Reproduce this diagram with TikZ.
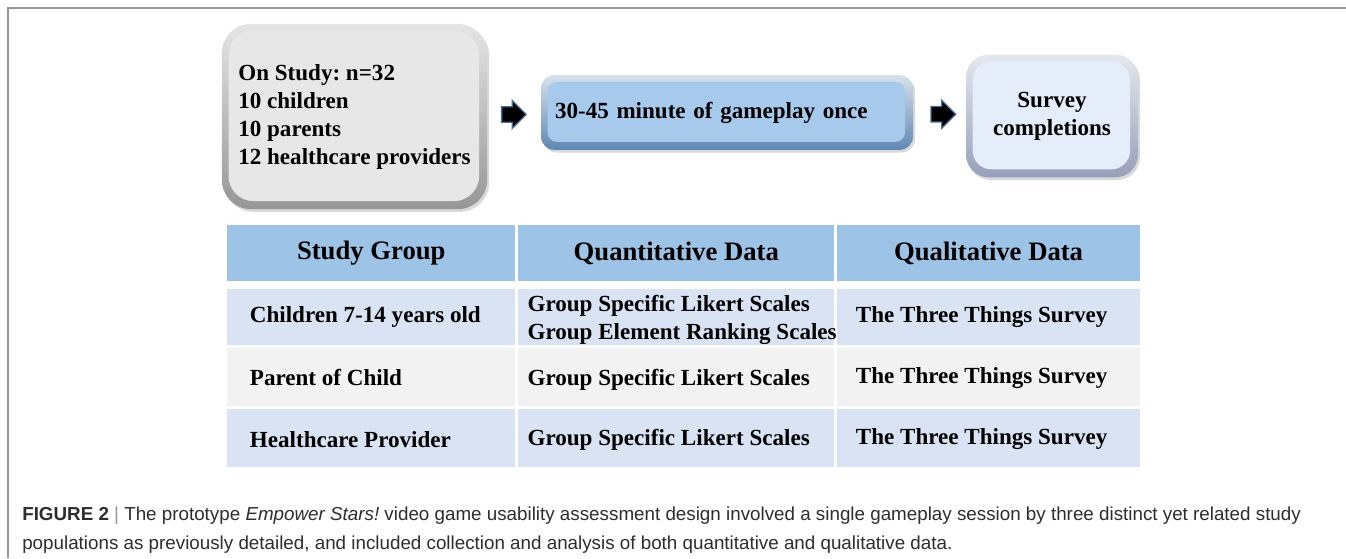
\documentclass[tikz,border=0pt]{standalone}
\usepackage{fontspec}
\setmainfont{Liberation Serif}
\newfontfamily\capfont{Liberation Sans}
\usetikzlibrary{positioning, shapes.arrows, shadows, calc}
\frenchspacing

\definecolor{framegray}{RGB}{150,150,150}
\definecolor{grayface}{RGB}{231,231,231}
\definecolor{grayedge}{RGB}{150,150,150}
\definecolor{blueface}{RGB}{166,201,236}
\definecolor{blueedge}{RGB}{95,135,180}
\definecolor{paleface}{RGB}{229,236,250}
\definecolor{paleedge}{RGB}{150,160,185}
\definecolor{arrowedge}{RGB}{70,110,150}
\definecolor{headblue}{RGB}{157,195,230}
\definecolor{rowblue}{RGB}{218,227,243}
\definecolor{rowgray}{RGB}{242,242,242}
\definecolor{captext}{RGB}{45,45,45}

\tikzset{
  stagebox/.style n args={3}{inner sep=0pt, rounded corners=#3,
    top color=#1!25, bottom color=#1,
    drop shadow={shadow xshift=1.5pt, shadow yshift=-2pt, opacity=0.3},
    path picture={\fill[#2, rounded corners=#3-3pt]
      ([shift={(5pt,-5pt)}]path picture bounding box.north west) rectangle
      ([shift={(-6pt,6pt)}]path picture bounding box.south east);}},
  blockarrow/.style={single arrow, fill=black, draw=arrowedge, line width=1pt,
    inner xsep=0pt, inner ysep=5.3pt, single arrow head extend=4.7pt,
    minimum height=18.5pt},
  cell/.style={anchor=north west, inner sep=0pt, minimum width=#1},
  headcell/.style={cell=#1, fill=headblue, minimum height=42pt,
    font=\fontsize{20}{24}\selectfont\bfseries},
  bodytext/.style={anchor=west, inner sep=0pt, align=left,
    font=\fontsize{17.3}{21}\selectfont\bfseries},
}

\begin{document}
\begin{tikzpicture}[x=0.75pt, y=-0.75pt]
  \useasboundingbox (0,0) rectangle (1346,558);
  \draw[framegray, line width=1.5pt] (8,558) -- (8,8) -- (1346,8);

  % flow of the study
  \node[stagebox={grayedge}{grayface}{22pt},
        minimum width=199pt, minimum height=139pt,
        align=left, font=\fontsize{17.3}{21}\selectfont\bfseries]
        (onstudy) at (354.5,116.5)
        {On Study: n=32\\10 children\\10 parents\\12 healthcare providers};
  \node[stagebox={blueedge}{blueface}{10pt},
        minimum width=279pt, minimum height=56pt, text width=258pt,
        align=left, font=\fontsize{17.3}{21}\selectfont\bfseries]
        (gameplay) at (727,112.5) {30-45 minute of gameplay once};
  \node[stagebox={paleedge}{paleface}{17pt},
        minimum width=129pt, minimum height=92pt, align=center,
        font=\fontsize{17.3}{21}\selectfont\bfseries]
        (survey) at (1052,116) {Survey\\completions};

  \node[blockarrow, xshift=-3pt] (arr1) at ($(onstudy.east)!0.5!(gameplay.west)$) {};
  \node[blockarrow] (arr2) at ($(gameplay.east)!0.5!(survey.west)$) {};

  % table of data
  \node[headcell=216pt] (h1) at (227,225) {Study Group};
  \node[headcell=237pt] (h2) at (518,225) {Quantitative Data};
  \node[headcell=227pt] (h3) at (837,225) {Qualitative Data};

  \node[cell=216pt, fill=rowblue, minimum height=42pt] (a1) at (227,289) {};
  \node[cell=237pt, fill=rowblue, minimum height=42pt] (a2) at (518,289) {};
  \node[cell=227pt, fill=rowblue, minimum height=42pt] (a3) at (837,289) {};
  \node[cell=216pt, fill=rowgray, minimum height=43.5pt] (b1) at (227,348) {};
  \node[cell=237pt, fill=rowgray, minimum height=43.5pt] (b2) at (518,348) {};
  \node[cell=227pt, fill=rowgray, minimum height=43.5pt] (b3) at (837,348) {};
  \node[cell=216pt, fill=rowblue, minimum height=43.5pt] (c1) at (227,409) {};
  \node[cell=237pt, fill=rowblue, minimum height=43.5pt] (c2) at (518,409) {};
  \node[cell=227pt, fill=rowblue, minimum height=43.5pt] (c3) at (837,409) {};

  \node[bodytext] (a1t) at ([xshift=17pt]a1.west) {Children 7-14 years old};
  \node[bodytext] (a2t) at ([xshift=7pt,yshift=-2pt]a2.west)
        {Group Specific Likert Scales\\Group Element Ranking Scales};
  \node[bodytext] (a3t) at ([xshift=14pt,yshift=0.5pt]a3.west) {The Three Things Survey};
  \node[bodytext] (b1t) at ([xshift=17pt]b1.west) {Parent of Child};
  \node[bodytext] (b2t) at ([xshift=7pt,yshift=-2pt]b2.west) {Group Specific Likert Scales};
  \node[bodytext] (b3t) at ([xshift=14pt,yshift=-0.5pt]b3.west) {The Three Things Survey};
  \node[bodytext] (c1t) at ([xshift=17pt,yshift=-1pt]c1.west) {Healthcare Provider};
  \node[bodytext] (c2t) at ([xshift=7pt,yshift=-0.8pt]c2.west) {Group Specific Likert Scales};
  \node[bodytext] (c3t) at ([xshift=14pt,yshift=-0.8pt]c3.west) {The Three Things Survey};

  % caption
  \node[anchor=west, inner sep=0pt, align=left, text=captext,
        font=\capfont\fontsize{14.1}{21.75}\selectfont] (caption) at (22,530.5)
        {\textbf{FIGURE 2} {\color{framegray}|} The prototype \textit{Empower Stars!} video game usability assessment design involved a single gameplay session by three distinct yet related study\\
         populations as previously detailed, and included collection and analysis of both quantitative and qualitative data.};
\end{tikzpicture}
\end{document}
